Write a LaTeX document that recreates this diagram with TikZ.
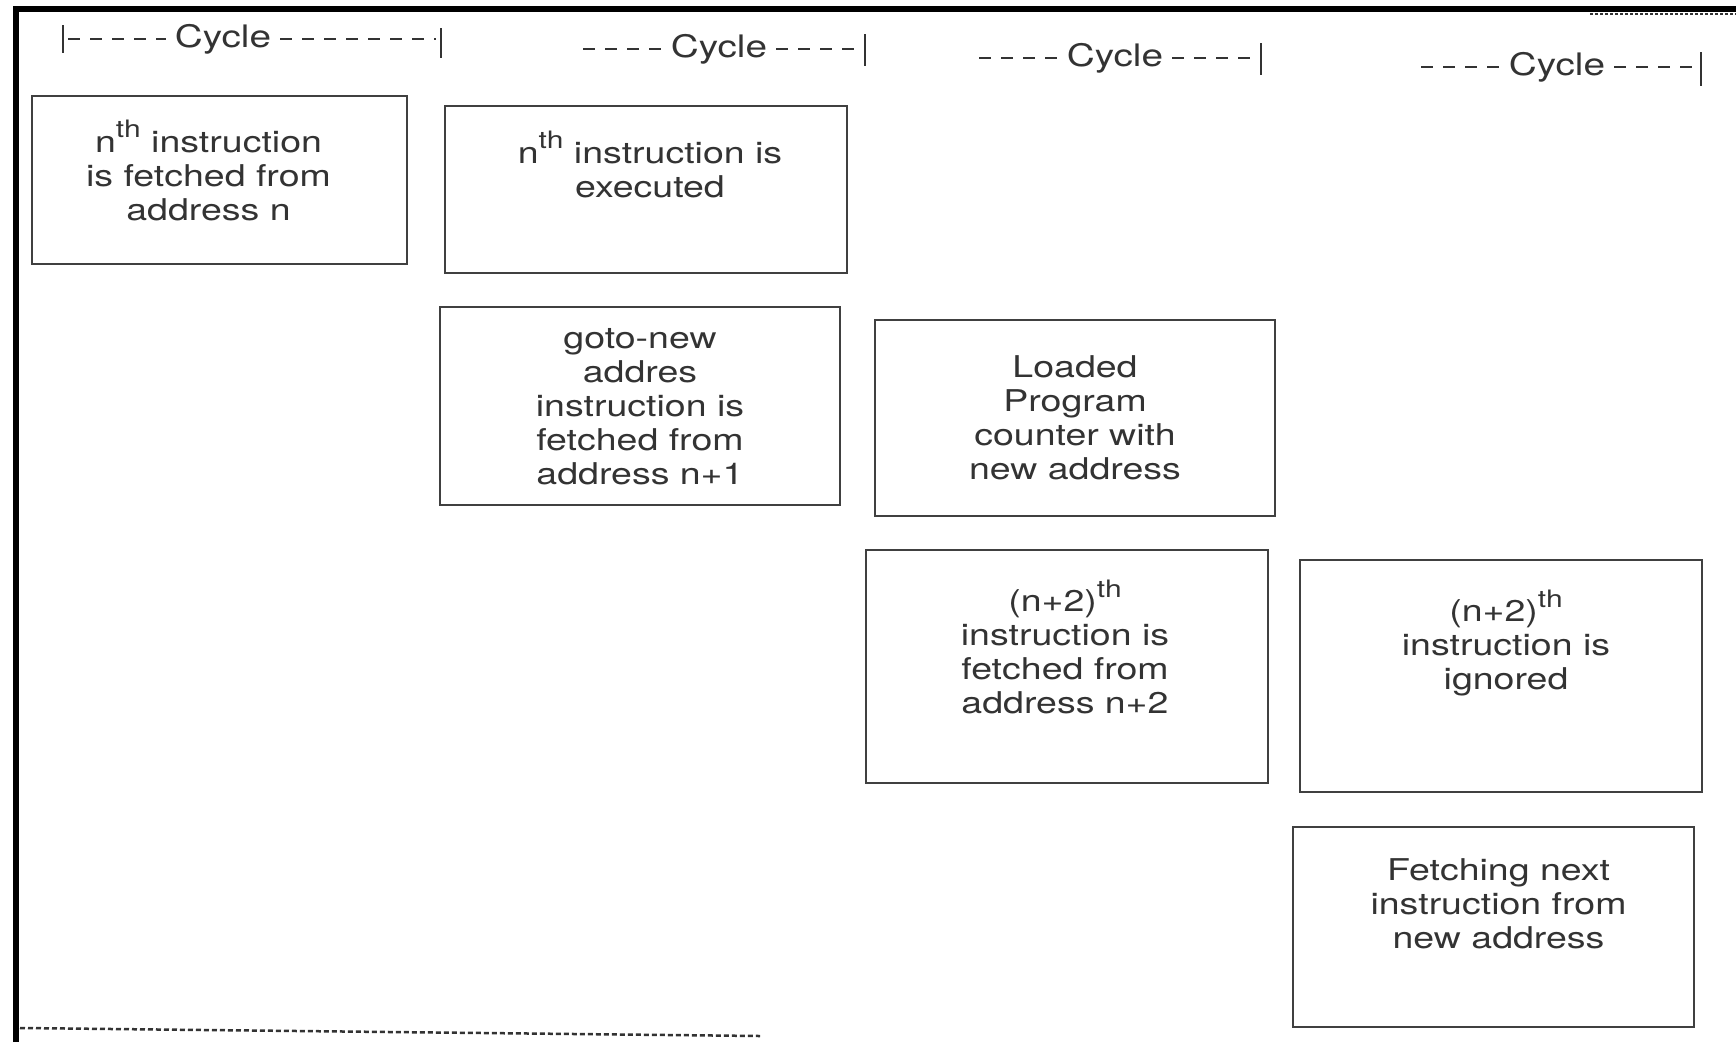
\documentclass[tikz,border=0pt]{standalone}
\usepackage{fontspec}
\setmainfont{TeX Gyre Heros}[FakeStretch=1.25]
\usepackage{tikz}
\definecolor{inkgray}{HTML}{333333}
\definecolor{linegray}{HTML}{404040}
\newcommand\supth{\smash{\raisebox{0.47em}{\fontsize{24}{24}\selectfont th}}}
\tikzset{stage/.style={draw=linegray,line width=2.8pt,inner sep=0pt},
	stagetext/.style={align=center,text=inkgray,font=\fontsize{30}{34}\selectfont,inner sep=0pt,anchor=north,
		execute at begin node=\rule{0pt}{24pt}},
	cyc/.style={text=inkgray,font=\fontsize{31}{34}\selectfont,inner xsep=9pt,inner ysep=0pt},
	cycdash/.style={draw=inkgray,line width=2.2pt,dash pattern=on 12pt off 10pt},
	cycbar/.style={draw=inkgray,line width=2.6pt}}

\begin{document}
\begin{tikzpicture}[x=1pt, y=-1pt]
\useasboundingbox (0,0) rectangle (1736,1042);
% scan frame
\draw[black, line width=6pt] (16,1042) -- (16,9) -- (1736,9);
\draw[inkgray, line width=2pt, dash pattern=on 3pt off 2pt] (1590,14) -- (1736,14);
\draw[inkgray, line width=2.5pt, dash pattern=on 5pt off 3pt] (20,1028) -- (760,1036);

% cycle markers
\node[cyc] (c1) at (223,39) {Cycle};
\coordinate (c1l) at (63,39);
\coordinate (c1e) at (436,39);
\coordinate (c1r) at (441,43);
\draw[cycdash] ([xshift=5pt]c1l) -- (c1.west);
\draw[cycdash] (c1.east) -- (c1e);
\draw[cycbar] ([yshift=14pt]c1l) -- ([yshift=-14pt]c1l);
\draw[cycbar] ([yshift=15pt]c1r) -- ([yshift=-15pt]c1r);

\node[cyc] (c2) at (719,49) {Cycle};
\coordinate (c2l) at (583,49);
\coordinate (c2e) at (855,49);
\coordinate (c2r) at (865,50);
\draw[cycdash] (c2l) -- (c2.west);
\draw[cycdash] (c2.east) -- (c2e);
\draw[cycbar] ([yshift=16pt]c2r) -- ([yshift=-16pt]c2r);

\node[cyc] (c3) at (1115,58) {Cycle};
\coordinate (c3l) at (979,58);
\coordinate (c3e) at (1251,58);
\coordinate (c3r) at (1261,59);
\draw[cycdash] (c3l) -- (c3.west);
\draw[cycdash] (c3.east) -- (c3e);
\draw[cycbar] ([yshift=16pt]c3r) -- ([yshift=-16pt]c3r);

\node[cyc] (c4) at (1557,67) {Cycle};
\coordinate (c4l) at (1421,67);
\coordinate (c4e) at (1692,67);
\coordinate (c4r) at (1701,69);
\draw[cycdash] (c4l) -- (c4.west);
\draw[cycdash] (c4.east) -- (c4e);
\draw[cycbar] ([yshift=17pt]c4r) -- ([yshift=-17pt]c4r);

% stages
\node[stage, minimum width=375pt, minimum height=168pt] (b1) at (219.5,180) {};
\node[stagetext] (t1) at ([xshift=-11pt, yshift=-36pt]b1.north) {n\supth{} instruction\\is fetched from\\address n};

\node[stage, minimum width=402pt, minimum height=167pt] (b2) at (646,189.5) {};
\node[stagetext] (t2) at ([xshift=4pt, yshift=-37pt]b2.north) {n\supth{} instruction is\\executed};

\node[stage, minimum width=400pt, minimum height=198pt] (b3) at (640,406) {};
\node[stagetext] (t3) at ([yshift=-23pt]b3.north) {goto-new\\addres\\instruction is\\fetched from\\address n+1};

\node[stage, minimum width=400pt, minimum height=196pt] (b4) at (1075,418) {};
\node[stagetext] (t4) at ([yshift=-37pt]b4.north) {Loaded\\Program\\counter with\\new address};

\node[stage, minimum width=402pt, minimum height=233pt] (b5) at (1067,666.5) {};
\node[stagetext] (t5) at ([xshift=-2pt, yshift=-41pt]b5.north) {(n+2)\supth\\instruction is\\fetched from\\address n+2};

\node[stage, minimum width=402pt, minimum height=232pt] (b6) at (1501,676) {};
\node[stagetext] (t6) at ([xshift=5pt, yshift=-41pt]b6.north) {(n+2)\supth\\instruction is\\ignored};

\node[stage, minimum width=401pt, minimum height=200pt] (b7) at (1493.5,927) {};
\node[stagetext] (t7) at ([xshift=5pt, yshift=-33pt]b7.north) {Fetching next\\instruction from\\new address};
\end{tikzpicture}
\end{document}
